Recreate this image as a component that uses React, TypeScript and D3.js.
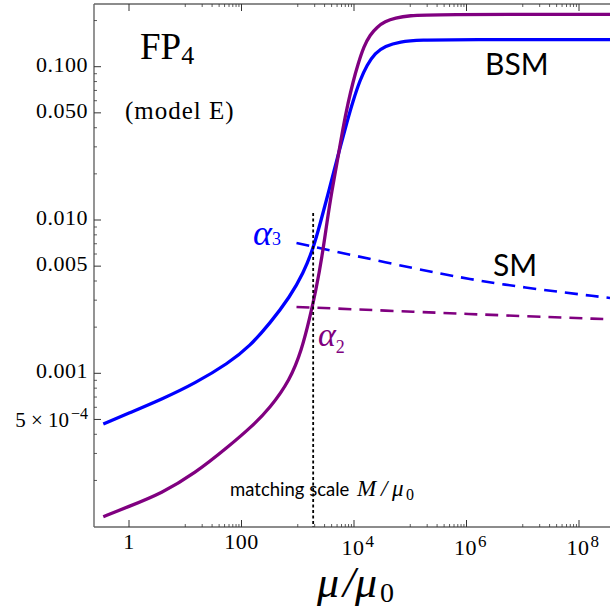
import React from 'react';
import * as d3 from 'd3';

// BSM running couplings (solid)
const muA3 = [0.349, 0.97, 3.81, 14.9, 58.3, 141.6, 321, 728, 1256, 1890, 2487, 3311, 4233, 5637, 7509, 9600, 12785, 17025, 23630, 35580, 65740, 149100, 766200, 3.557e8];
const alphaA3 = [4.67e-4, 5.48e-4, 6.77e-4, 8.61e-4, 1.162e-3, 1.507e-3, 2.119e-3, 3.16e-3, 4.49e-3, 6.54e-3, 9.42e-3, 0.0139, 0.0197, 0.0295, 0.0436, 0.0597, 0.0819, 0.1026, 0.1229, 0.1365, 0.146, 0.1493, 0.1504, 0.1504];
const muA2 = [0.349, 0.97, 3.81, 14.9, 58.3, 151.8, 321, 728, 1175, 1651, 2110, 2698, 3311, 4063, 4987, 6374, 7823, 9600, 11780, 15060, 19250, 25640, 35580, 53570, 99000, 224500, 3.557e8];
const alphaA2 = [1.16e-4, 1.348e-4, 1.649e-4, 2.227e-4, 3.32e-4, 4.485e-4, 5.94e-4, 9.04e-4, 1.419e-3, 2.34e-3, 3.494e-3, 5.735e-3, 9.7e-3, 0.01569, 0.02354, 0.03983, 0.05797, 0.0795, 0.1041, 0.1365, 0.161, 0.1816, 0.1971, 0.2078, 0.2158, 0.2191, 0.2197];

// SM running couplings (dashed)
const muSM = [950, 1.5e5, 4e6, 3.557e8];
const alphaSM3 = [0.00708, 0.00472, 0.00377, 0.0031];
const alphaSM2 = [0.00271, 0.00251, 0.00239, 0.00225];

// matching scale
const matchingScale = 1880;
const matchingTop = 0.0111;

// ticks
const xMajorTicks = [1, 100, 1e4, 1e6, 1e8];
const xTickBase = ['1', '100', '10', '10', '10'];
const xTickExp = ['', '', '4', '6', '8'];
const yMajorTicks = [0.1, 0.05, 0.01, 0.005, 0.001, 0.0005];
const yTickLabels = ['0.100', '0.050', '0.010', '0.005', '0.001', ''];

const SERIF = '"Liberation Serif", "Times New Roman", serif';
const SANS = 'Lato, "Open Sans", sans-serif';

export default function App() {
  const left = 94, right = 610, top = 4, bottom = 527;
  const x = d3.scaleLog().domain([1, 1e8]).range([129, 579]);
  const y = d3.scaleLog().domain([0.1, 0.001]).range([66.7, 373.3]);

  const line = d3.line<[number, number]>()
    .x(d => x(d[0]))
    .y(d => y(d[1]))
    .curve(d3.curveBasis);

  const zip = (a: number[], b: number[]) => a.map((v, i) => [v, b[i]] as [number, number]);

  const xMinor: number[] = [];
  [1, 3, 5, 7].forEach(k => { for (let m = 1; m <= 9; m++) xMinor.push(m * Math.pow(10, k)); });
  const yMinor: number[] = [];
  [1e-4, 1e-3, 1e-2, 1e-1].forEach(dec => {
    for (let m = 2; m <= 9; m++) {
      const v = m * dec;
      if (m === 5) continue;
      const py = y(v);
      if (py >= top && py <= bottom) yMinor.push(v);
    }
  });

  const axisColor = '#666';
  const tickColor = '#333';

  return (
    <svg width={610} height={615} style={{ position: 'absolute', left: 0, top: 0, background: '#fff' }}>
      <defs>
        <clipPath id="plotclip">
          <rect x={left} y={top} width={right - left} height={bottom - top} />
        </clipPath>
      </defs>
      <rect x={0} y={0} width={610} height={615} fill="#fff" />

      {/* frame */}
      <line x1={left} x2={right} y1={top} y2={top} stroke={axisColor} strokeWidth={1.4} />
      <line x1={left} x2={right} y1={bottom} y2={bottom} stroke={axisColor} strokeWidth={1.4} />
      <line x1={left} x2={left} y1={top} y2={bottom} stroke={axisColor} strokeWidth={1.4} />

      {/* x ticks bottom & top */}
      {xMajorTicks.map((t, i) => (
        <g key={'xM' + i}>
          <line x1={x(t)} x2={x(t)} y1={bottom} y2={bottom - 7} stroke={tickColor} strokeWidth={1} />
          <line x1={x(t)} x2={x(t)} y1={top} y2={top + 7} stroke={tickColor} strokeWidth={1} />
        </g>
      ))}
      {xMinor.map((t, i) => (
        <g key={'xm' + i}>
          <line x1={x(t)} x2={x(t)} y1={bottom} y2={bottom - 3} stroke={tickColor} strokeWidth={0.8} />
          <line x1={x(t)} x2={x(t)} y1={top} y2={top + 3} stroke={tickColor} strokeWidth={0.8} />
        </g>
      ))}
      {/* y ticks */}
      {yMajorTicks.map((t, i) => (
        <line key={'yM' + i} x1={left} x2={left + 7} y1={y(t)} y2={y(t)} stroke={tickColor} strokeWidth={1} />
      ))}
      {yMinor.map((t, i) => (
        <line key={'ym' + i} x1={left} x2={left + 3} y1={y(t)} y2={y(t)} stroke={tickColor} strokeWidth={0.8} />
      ))}

      {/* x tick labels */}
      {xMajorTicks.map((t, i) => (
        xTickExp[i] === '' ? (
          <text key={'xl' + i} x={x(t)} y={549} textAnchor="middle" fontFamily={SERIF} fontSize={22} letterSpacing={0.5} fill="#000">{xTickBase[i]}</text>
        ) : (
          <text key={'xl' + i} x={x(t) + 4} y={555} textAnchor="middle" fontFamily={SERIF} fontSize={22} letterSpacing={0.5} fill="#000">
            {xTickBase[i]}
            <tspan fontSize={17} dy={-8} dx={1}>{xTickExp[i]}</tspan>
          </text>
        )
      ))}

      {/* y tick labels */}
      {yMajorTicks.map((t, i) => (
        yTickLabels[i] !== '' ? (
          <text key={'yl' + i} x={88} y={y(t) + 5} textAnchor="end" fontFamily={SERIF} fontSize={22} letterSpacing={0.5} fill="#000">{yTickLabels[i]}</text>
        ) : (
          <text key={'yl' + i} x={88} y={y(t) + 8} textAnchor="end" fontFamily={SERIF} fontSize={21} fill="#000">
            5 × 10<tspan fontSize={16} dy={-8} dx={2}>−4</tspan>
          </text>
        )
      ))}

      {/* curves */}
      <g clipPath="url(#plotclip)">
        <path d={line(zip(muSM, alphaSM3)) || ''} fill="none" stroke="#0000ff" strokeWidth={2.6} strokeDasharray="13,8" />
        <path d={line(zip(muSM, alphaSM2)) || ''} fill="none" stroke="#800080" strokeWidth={2.6} strokeDasharray="13,8" />
        <path d={line(zip(muA3, alphaA3)) || ''} fill="none" stroke="#0000ff" strokeWidth={3.3} />
        <path d={line(zip(muA2, alphaA2)) || ''} fill="none" stroke="#800080" strokeWidth={3.3} />
      </g>

      {/* matching scale label */}
      <text x={230} y={496} fontFamily={SANS} fontSize={18.5} fill="#000">matching scale</text>
      <text y={496} fontFamily={SERIF} fontStyle="italic" fontSize={23} fill="#000">
        <tspan x={357}>M</tspan>
        <tspan x={381}>/</tspan>
        <tspan x={392}>μ</tspan>
        <tspan x={406} fontStyle="normal" fontSize={16} dy={4}>0</tspan>
      </text>
      <line x1={x(matchingScale)} x2={x(matchingScale)} y1={y(matchingTop)} y2={bottom} stroke="#000" strokeWidth={1.8} strokeDasharray="3,2.5" />

      {/* labels */}
      <text x={140} y={59} fontFamily={SERIF} fontSize={37} fill="#000">
        FP<tspan fontSize={26} dy={5}>4</tspan>
      </text>
      <text x={125} y={119} fontFamily={SERIF} fontSize={25} letterSpacing={1} fill="#000">(model E)</text>
      <text x={485} y={75} fontFamily={SANS} fontSize={30} fill="#000">BSM</text>
      <text x={493} y={276} fontFamily={SANS} fontSize={30} fill="#000">SM</text>

      <text x={253} y={245} fontFamily={SERIF} fontStyle="italic" fontSize={36} fill="#0000ff">
        α<tspan fontStyle="normal" fontSize={18} dy={0}>3</tspan>
      </text>
      <text x={318} y={346} fontFamily={SERIF} fontStyle="italic" fontSize={34} fill="#800080">
        α<tspan fontStyle="normal" fontSize={18} dy={7}>2</tspan>
      </text>

      {/* axis title */}
      <text y={597} fontFamily={SERIF} fontStyle="italic" fontSize={44} fill="#000">
        <tspan x={317}>μ</tspan>
        <tspan x={343}>/</tspan>
        <tspan x={355}>μ</tspan>
        <tspan x={380} fontStyle="normal" fontSize={28} dy={5}>0</tspan>
      </text>
    </svg>
  );
}
